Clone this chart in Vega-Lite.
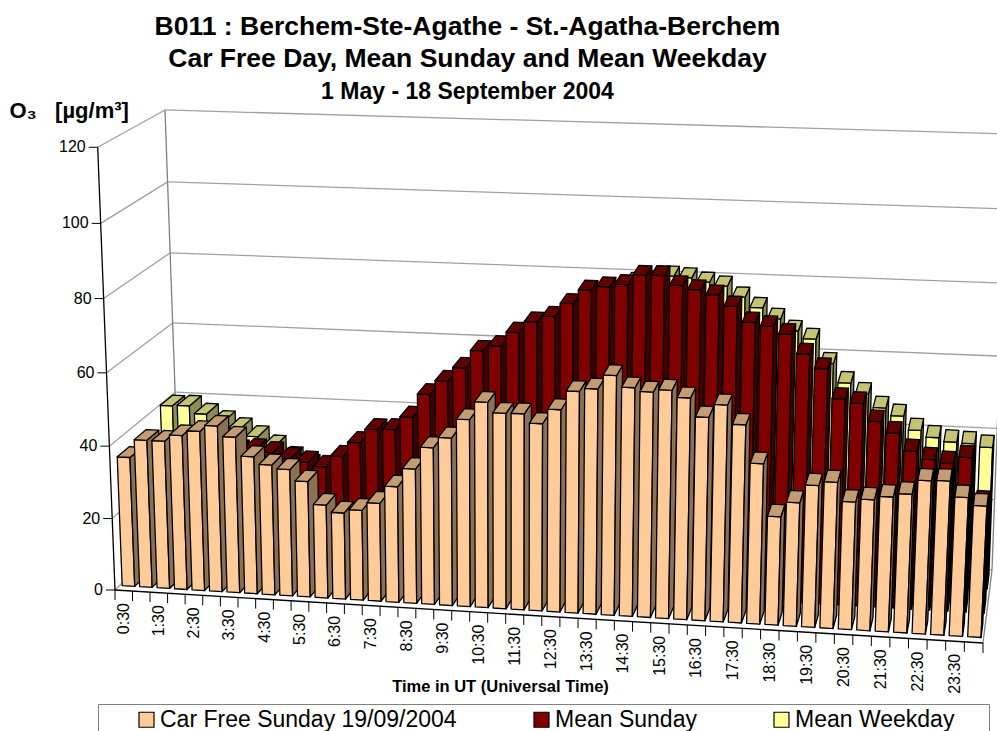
{
"$schema":"https://vega.github.io/schema/vega-lite/v6.json",
"width":997,"height":731,"padding":0,"autosize":{"type":"none"},"background":"white",
"config":{"font":"Liberation Sans","view":{"stroke":null}},
"title":{"text":["B011 : Berchem-Ste-Agathe - St.-Agatha-Berchem","Car Free Day, Mean Sunday and Mean Weekday"],"subtitle":"1 May - 18 September 2004","frame":"group","anchor":"middle","dx":-31,"offset":-104,"fontSize":26.5,"fontWeight":"bold","lineHeight":32,"color":"#000","subtitleFontSize":23,"subtitleFontWeight":"bold","subtitleColor":"#000","subtitlePadding":9},
"datasets":{
"frame":[
{"edge":"back","level":0},{"edge":"back","level":20},{"edge":"back","level":40},{"edge":"back","level":60},{"edge":"back","level":80},{"edge":"back","level":100},{"edge":"back","level":120},
{"edge":"left","level":0},{"edge":"left","level":20},{"edge":"left","level":40},{"edge":"left","level":60},{"edge":"left","level":80},{"edge":"left","level":100},{"edge":"left","level":120},
{"edge":"right","level":0},{"edge":"backleft","level":0},{"edge":"backright","level":0},{"edge":"axis","level":0},{"edge":"front","level":0}],
"levels":[{"v":0},{"v":20},{"v":40},{"v":60},{"v":80},{"v":100},{"v":120}],
"ticks":[{"slot":0,"time":"0:30"},{"slot":1,"time":"1:00"},{"slot":2,"time":"1:30"},{"slot":3,"time":"2:00"},{"slot":4,"time":"2:30"},{"slot":5,"time":"3:00"},{"slot":6,"time":"3:30"},{"slot":7,"time":"4:00"},{"slot":8,"time":"4:30"},{"slot":9,"time":"5:00"},{"slot":10,"time":"5:30"},{"slot":11,"time":"6:00"},{"slot":12,"time":"6:30"},{"slot":13,"time":"7:00"},{"slot":14,"time":"7:30"},{"slot":15,"time":"8:00"},{"slot":16,"time":"8:30"},{"slot":17,"time":"9:00"},{"slot":18,"time":"9:30"},{"slot":19,"time":"10:00"},{"slot":20,"time":"10:30"},{"slot":21,"time":"11:00"},{"slot":22,"time":"11:30"},{"slot":23,"time":"12:00"},{"slot":24,"time":"12:30"},{"slot":25,"time":"13:00"},{"slot":26,"time":"13:30"},{"slot":27,"time":"14:00"},{"slot":28,"time":"14:30"},{"slot":29,"time":"15:00"},{"slot":30,"time":"15:30"},{"slot":31,"time":"16:00"},{"slot":32,"time":"16:30"},{"slot":33,"time":"17:00"},{"slot":34,"time":"17:30"},{"slot":35,"time":"18:00"},{"slot":36,"time":"18:30"},{"slot":37,"time":"19:00"},{"slot":38,"time":"19:30"},{"slot":39,"time":"20:00"},{"slot":40,"time":"20:30"},{"slot":41,"time":"21:00"},{"slot":42,"time":"21:30"},{"slot":43,"time":"22:00"},{"slot":44,"time":"22:30"},{"slot":45,"time":"23:00"},{"slot":46,"time":"23:30"},{"slot":47,"time":"24:00"},{"slot":48,"time":""}],
"bars":[
{"slot":0,"series":"Mean Weekday","value":40.3},{"slot":1,"series":"Mean Weekday","value":40.5},{"slot":2,"series":"Mean Weekday","value":38.4},{"slot":3,"series":"Mean Weekday","value":36.5},{"slot":4,"series":"Mean Weekday","value":34.7},{"slot":5,"series":"Mean Weekday","value":32.6},{"slot":6,"series":"Mean Weekday","value":30.1},{"slot":7,"series":"Mean Weekday","value":27},{"slot":8,"series":"Mean Weekday","value":25},{"slot":9,"series":"Mean Weekday","value":24},{"slot":10,"series":"Mean Weekday","value":24},{"slot":11,"series":"Mean Weekday","value":25},{"slot":12,"series":"Mean Weekday","value":30},{"slot":13,"series":"Mean Weekday","value":33},{"slot":14,"series":"Mean Weekday","value":37},{"slot":15,"series":"Mean Weekday","value":41},{"slot":16,"series":"Mean Weekday","value":45},{"slot":17,"series":"Mean Weekday","value":49},{"slot":18,"series":"Mean Weekday","value":53},{"slot":19,"series":"Mean Weekday","value":58},{"slot":20,"series":"Mean Weekday","value":60},{"slot":21,"series":"Mean Weekday","value":63},{"slot":22,"series":"Mean Weekday","value":66},{"slot":23,"series":"Mean Weekday","value":71},{"slot":24,"series":"Mean Weekday","value":73.5},{"slot":25,"series":"Mean Weekday","value":75.5},{"slot":26,"series":"Mean Weekday","value":77.5},{"slot":27,"series":"Mean Weekday","value":80.3},{"slot":28,"series":"Mean Weekday","value":80.9},{"slot":29,"series":"Mean Weekday","value":82.4},{"slot":30,"series":"Mean Weekday","value":82.1},{"slot":31,"series":"Mean Weekday","value":81.1},{"slot":32,"series":"Mean Weekday","value":80.2},{"slot":33,"series":"Mean Weekday","value":77.4},{"slot":34,"series":"Mean Weekday","value":74.7},{"slot":35,"series":"Mean Weekday","value":71.9},{"slot":36,"series":"Mean Weekday","value":68.8},{"slot":37,"series":"Mean Weekday","value":66.8},{"slot":38,"series":"Mean Weekday","value":60.3},{"slot":39,"series":"Mean Weekday","value":55.2},{"slot":40,"series":"Mean Weekday","value":52.4},{"slot":41,"series":"Mean Weekday","value":48.8},{"slot":42,"series":"Mean Weekday","value":46.8},{"slot":43,"series":"Mean Weekday","value":43.1},{"slot":44,"series":"Mean Weekday","value":41.3},{"slot":45,"series":"Mean Weekday","value":40.3},{"slot":46,"series":"Mean Weekday","value":40.1},{"slot":47,"series":"Mean Weekday","value":39.3},
{"slot":0,"series":"Mean Sunday","value":31},{"slot":1,"series":"Mean Sunday","value":31},{"slot":2,"series":"Mean Sunday","value":30},{"slot":3,"series":"Mean Sunday","value":32},{"slot":4,"series":"Mean Sunday","value":32},{"slot":5,"series":"Mean Sunday","value":34},{"slot":6,"series":"Mean Sunday","value":34.5},{"slot":7,"series":"Mean Sunday","value":33.9},{"slot":8,"series":"Mean Sunday","value":32.5},{"slot":9,"series":"Mean Sunday","value":31.7},{"slot":10,"series":"Mean Sunday","value":30.7},{"slot":11,"series":"Mean Sunday","value":33.8},{"slot":12,"series":"Mean Sunday","value":37.9},{"slot":13,"series":"Mean Sunday","value":41.8},{"slot":14,"series":"Mean Sunday","value":42},{"slot":15,"series":"Mean Sunday","value":45.7},{"slot":16,"series":"Mean Sunday","value":52.2},{"slot":17,"series":"Mean Sunday","value":56.1},{"slot":18,"series":"Mean Sunday","value":59.9},{"slot":19,"series":"Mean Sunday","value":64.8},{"slot":20,"series":"Mean Sunday","value":66.3},{"slot":21,"series":"Mean Sunday","value":70.2},{"slot":22,"series":"Mean Sunday","value":73.2},{"slot":23,"series":"Mean Sunday","value":74.9},{"slot":24,"series":"Mean Sunday","value":78.6},{"slot":25,"series":"Mean Sunday","value":82.4},{"slot":26,"series":"Mean Sunday","value":83.5},{"slot":27,"series":"Mean Sunday","value":84.3},{"slot":28,"series":"Mean Sunday","value":87},{"slot":29,"series":"Mean Sunday","value":87.1},{"slot":30,"series":"Mean Sunday","value":84.6},{"slot":31,"series":"Mean Sunday","value":83.7},{"slot":32,"series":"Mean Sunday","value":82.5},{"slot":33,"series":"Mean Sunday","value":79.7},{"slot":34,"series":"Mean Sunday","value":75.6},{"slot":35,"series":"Mean Sunday","value":74.8},{"slot":36,"series":"Mean Sunday","value":72.9},{"slot":37,"series":"Mean Sunday","value":67.8},{"slot":38,"series":"Mean Sunday","value":64.1},{"slot":39,"series":"Mean Sunday","value":56.2},{"slot":40,"series":"Mean Sunday","value":55.3},{"slot":41,"series":"Mean Sunday","value":50.6},{"slot":42,"series":"Mean Sunday","value":47.7},{"slot":43,"series":"Mean Sunday","value":43.1},{"slot":44,"series":"Mean Sunday","value":41.1},{"slot":45,"series":"Mean Sunday","value":40.3},{"slot":46,"series":"Mean Sunday","value":42.1},{"slot":47,"series":"Mean Sunday","value":30},
{"slot":0,"series":"Car Free Sunday 19/09/2004","value":36},{"slot":1,"series":"Car Free Sunday 19/09/2004","value":41},{"slot":2,"series":"Car Free Sunday 19/09/2004","value":41},{"slot":3,"series":"Car Free Sunday 19/09/2004","value":42.8},{"slot":4,"series":"Car Free Sunday 19/09/2004","value":44.2},{"slot":5,"series":"Car Free Sunday 19/09/2004","value":45.9},{"slot":6,"series":"Car Free Sunday 19/09/2004","value":43.1},{"slot":7,"series":"Car Free Sunday 19/09/2004","value":38},{"slot":8,"series":"Car Free Sunday 19/09/2004","value":36},{"slot":9,"series":"Car Free Sunday 19/09/2004","value":35},{"slot":10,"series":"Car Free Sunday 19/09/2004","value":32},{"slot":11,"series":"Car Free Sunday 19/09/2004","value":25.8},{"slot":12,"series":"Car Free Sunday 19/09/2004","value":23.9},{"slot":13,"series":"Car Free Sunday 19/09/2004","value":24.9},{"slot":14,"series":"Car Free Sunday 19/09/2004","value":27.1},{"slot":15,"series":"Car Free Sunday 19/09/2004","value":31.9},{"slot":16,"series":"Car Free Sunday 19/09/2004","value":37},{"slot":17,"series":"Car Free Sunday 19/09/2004","value":43},{"slot":18,"series":"Car Free Sunday 19/09/2004","value":45.9},{"slot":19,"series":"Car Free Sunday 19/09/2004","value":51.1},{"slot":20,"series":"Car Free Sunday 19/09/2004","value":56},{"slot":21,"series":"Car Free Sunday 19/09/2004","value":53.3},{"slot":22,"series":"Car Free Sunday 19/09/2004","value":53.4},{"slot":23,"series":"Car Free Sunday 19/09/2004","value":51},{"slot":24,"series":"Car Free Sunday 19/09/2004","value":55},{"slot":25,"series":"Car Free Sunday 19/09/2004","value":60.1},{"slot":26,"series":"Car Free Sunday 19/09/2004","value":61},{"slot":27,"series":"Car Free Sunday 19/09/2004","value":64.8},{"slot":28,"series":"Car Free Sunday 19/09/2004","value":61.8},{"slot":29,"series":"Car Free Sunday 19/09/2004","value":60.9},{"slot":30,"series":"Car Free Sunday 19/09/2004","value":61.6},{"slot":31,"series":"Car Free Sunday 19/09/2004","value":59.8},{"slot":32,"series":"Car Free Sunday 19/09/2004","value":54.9},{"slot":33,"series":"Car Free Sunday 19/09/2004","value":58.4},{"slot":34,"series":"Car Free Sunday 19/09/2004","value":53.4},{"slot":35,"series":"Car Free Sunday 19/09/2004","value":43.3},{"slot":36,"series":"Car Free Sunday 19/09/2004","value":29.4},{"slot":37,"series":"Car Free Sunday 19/09/2004","value":33.4},{"slot":38,"series":"Car Free Sunday 19/09/2004","value":38.3},{"slot":39,"series":"Car Free Sunday 19/09/2004","value":39.4},{"slot":40,"series":"Car Free Sunday 19/09/2004","value":34.4},{"slot":41,"series":"Car Free Sunday 19/09/2004","value":35.3},{"slot":42,"series":"Car Free Sunday 19/09/2004","value":36.3},{"slot":43,"series":"Car Free Sunday 19/09/2004","value":37.3},{"slot":44,"series":"Car Free Sunday 19/09/2004","value":41.1},{"slot":45,"series":"Car Free Sunday 19/09/2004","value":41.3},{"slot":46,"series":"Car Free Sunday 19/09/2004","value":37.2},{"slot":47,"series":"Car Free Sunday 19/09/2004","value":35.2}
]},
"encoding":{
"x":{"field":"X","type":"quantitative","scale":{"domain":[0,997],"nice":false,"zero":false},"axis":{"title":"Time in UT (Universal Time)","titleFontSize":16.5,"titleFontWeight":"bold","titleColor":"#000","titleX":500,"titleY":-53,"titleAnchor":"middle","labels":false,"ticks":false,"domain":false,"grid":false,"orient":"bottom","offset":0}},
"y":{"field":"Y","type":"quantitative","scale":{"domain":[731,0],"nice":false,"zero":false},"axis":{"title":"O₃\u00a0\u00a0\u00a0[µg/m³]","titleFontSize":22,"titleFontWeight":"bold","titleColor":"#000","titleAngle":0,"titleAlign":"left","titleBaseline":"alphabetic","titleX":9,"titleY":117,"labels":false,"ticks":false,"domain":false,"grid":false}}
},
"layer":[
{"data":{"name":"frame"},
"transform":[
{"calculate":"[0,1]","as":"a"},{"flatten":["a"]},
{"calculate":"datum.edge+datum.level","as":"id"},
{"calculate":"datum.edge=='back'||datum.edge=='front'?datum.a*48:(datum.edge=='right'||datum.edge=='backright'?48:0)","as":"u"},
{"calculate":"datum.edge=='left'||datum.edge=='right'?datum.a:(datum.edge=='back'||datum.edge=='backleft'||datum.edge=='backright'?1:0)","as":"w"},
{"calculate":"datum.edge=='backleft'||datum.edge=='backright'||datum.edge=='axis'?datum.a*120:datum.level","as":"v"},
{"calculate":"datum.edge=='axis'||datum.edge=='front'?'axis':(datum.edge=='back'||datum.edge=='left'?'grid':'edge')","as":"role"},
{"calculate":"(17.5*datum.u+0.0125*datum.u*datum.u)/868.8","as":"s"},
{"calculate":"(3.55*datum.v+0.00117*datum.v*datum.v)/442.8","as":"q"},
{"calculate":"(1-datum.q)*((1-datum.w)*((1-datum.s)*115+datum.s*983)+datum.w*((1-datum.s)*180+datum.s*992))+datum.q*((1-datum.w)*((1-datum.s)*97.7+datum.s*1004)+datum.w*((1-datum.s)*165+datum.s*1008))","as":"X"},
{"calculate":"(1-datum.q)*((1-datum.w)*((1-datum.s)*590+datum.s*643)+datum.w*((1-datum.s)*528+datum.s*570))+datum.q*((1-datum.w)*((1-datum.s)*147.3+datum.s*181)+datum.w*((1-datum.s)*110+datum.s*134))","as":"Y"}
],
"mark":{"type":"line","strokeWidth":1.3,"clip":false},
"encoding":{"detail":{"field":"id"},"order":{"field":"a"},"stroke":{"field":"role","scale":{"domain":["grid","edge","axis"],"range":["#a0a0a0","#808080","#000000"]},"legend":null}}
},
{"data":{"name":"levels"},
"transform":[
{"calculate":"(3.55*datum.v+0.00117*datum.v*datum.v)/442.8","as":"q"},
{"calculate":"(1-datum.q)*115+datum.q*97.7","as":"X"},
{"calculate":"(1-datum.q)*590+datum.q*147.3","as":"Y"},
{"calculate":"datum.X-9","as":"X2"},{"calculate":"datum.X-12","as":"XL"}
],
"layer":[
{"mark":{"type":"rule","color":"#000","strokeWidth":1},"encoding":{"x2":{"field":"X2"}}},
{"mark":{"type":"text","align":"right","baseline":"middle","fontSize":16,"color":"#000"},"encoding":{"x":{"field":"XL","type":"quantitative"},"text":{"field":"v","type":"quantitative"}}}
]},
{"data":{"name":"ticks"},
"transform":[
{"calculate":"(17.5*datum.slot+0.0125*datum.slot*datum.slot)/868.8","as":"s"},
{"calculate":"(1-datum.s)*115+datum.s*983","as":"X"},
{"calculate":"(1-datum.s)*590+datum.s*643","as":"Y"},
{"calculate":"datum.Y+10","as":"Y2"}
],
"mark":{"type":"rule","color":"#000","strokeWidth":1},"encoding":{"y2":{"field":"Y2"}}
},
{"data":{"name":"ticks"},
"transform":[
{"filter":"datum.slot%2==0&&datum.slot<48"},
{"calculate":"datum.slot+0.5","as":"u"},
{"calculate":"(17.5*datum.u+0.0125*datum.u*datum.u)/868.8","as":"s"},
{"calculate":"(1-datum.s)*115+datum.s*983","as":"X"},
{"calculate":"(1-datum.s)*590+datum.s*643+12.5","as":"Y"}
],
"mark":{"type":"text","angle":270,"align":"right","baseline":"middle","fontSize":16,"color":"#000"},"encoding":{"text":{"field":"time"}}
},
{"data":{"name":"bars"},
"transform":[
{"calculate":"indexof(['Car Free Sunday 19/09/2004','Mean Sunday','Mean Weekday'],datum.series)","as":"d"},
{"calculate":"['front','side','top']","as":"face"},{"flatten":["face"]},
{"calculate":"[0,1,2,3]","as":"vert"},{"flatten":["vert"]},
{"calculate":"datum.series+'-'+datum.slot+'-'+datum.face","as":"poly"},
{"calculate":"datum.series+'|'+datum.face","as":"faceKey"},
{"calculate":"datum.slot+0.14","as":"u0"},{"calculate":"datum.slot+0.86","as":"u1"},
{"calculate":"(datum.d+0.22)/3","as":"w0"},{"calculate":"(datum.d+0.78)/3","as":"w1"},
{"calculate":"datum.face=='side'?datum.u1:((datum.vert==0||datum.vert==3)?datum.u0:datum.u1)","as":"u"},
{"calculate":"datum.face=='front'?datum.w0:(datum.face=='side'?((datum.vert==0||datum.vert==3)?datum.w0:datum.w1):(datum.vert<2?datum.w0:datum.w1))","as":"w"},
{"calculate":"datum.face=='top'?datum.value:(datum.vert<2?0:datum.value)","as":"v"},
{"calculate":"(17.5*datum.u+0.0125*datum.u*datum.u)/868.8","as":"s"},
{"calculate":"(3.55*datum.v+0.00117*datum.v*datum.v)/442.8","as":"q"},
{"calculate":"(1-datum.q)*((1-datum.w)*((1-datum.s)*115+datum.s*983)+datum.w*((1-datum.s)*180+datum.s*992))+datum.q*((1-datum.w)*((1-datum.s)*97.7+datum.s*1004)+datum.w*((1-datum.s)*165+datum.s*1008))","as":"X"},
{"calculate":"(1-datum.q)*((1-datum.w)*((1-datum.s)*590+datum.s*643)+datum.w*((1-datum.s)*528+datum.s*570))+datum.q*((1-datum.w)*((1-datum.s)*147.3+datum.s*181)+datum.w*((1-datum.s)*110+datum.s*134))","as":"Y"}
],
"mark":{"type":"line","interpolate":"linear-closed","stroke":"#000","strokeWidth":1.3,"strokeJoin":"round"},
"encoding":{"detail":{"field":"poly"},"order":{"field":"vert"},
"fill":{"field":"faceKey","scale":{"domain":["Mean Weekday|front","Mean Weekday|side","Mean Weekday|top","Mean Sunday|front","Mean Sunday|side","Mean Sunday|top","Car Free Sunday 19/09/2004|front","Car Free Sunday 19/09/2004|side","Car Free Sunday 19/09/2004|top"],"range":["#FFFF99","#8C8C54","#C4C474","#800000","#400000","#600000","#FFCC99","#8C7054","#C49C74"]},"legend":null}}
},
{"data":{"name":"bars"},
"transform":[{"calculate":"datum.slot","as":"X"},{"calculate":"datum.value","as":"Y"}],
"mark":{"type":"square","size":0,"opacity":1},
"encoding":{"fill":{"field":"series","scale":{"domain":["Car Free Sunday 19/09/2004","Mean Sunday","Mean Weekday"],"range":["#FFCC99","#800000","#FFFF99"]},
"legend":{"orient":"none","legendX":98,"legendY":704,"direction":"horizontal","columns":3,"title":"\u00a0","titleOrient":"right","titlePadding":31,"titleFontSize":8,"symbolOffset":33,"symbolType":"square","symbolSize":225,"symbolStrokeColor":"#000","symbolStrokeWidth":1.2,"labelFontSize":23,"labelColor":"#000","labelLimit":500,"fillColor":"#fff","strokeColor":"#808080","padding":4,"columnPadding":40,"labelOffset":2}}}
}
],
"resolve":{"scale":{"fill":"independent"}}
}
